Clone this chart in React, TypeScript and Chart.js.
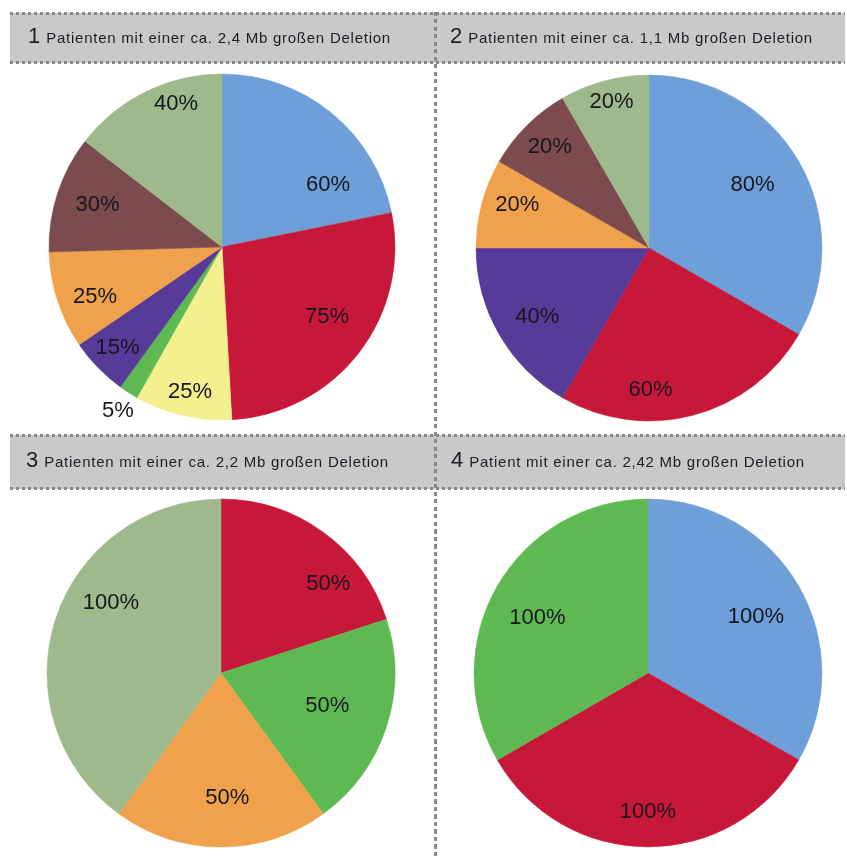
import React, { useEffect, useRef } from "react";
import { Chart, registerables } from "chart.js";

Chart.register(...registerables);

// ---- Data ----
const pie1Categories = ["A", "B", "C", "D", "E", "F", "G", "H"];
const pie1Values = [60, 75, 25, 5, 15, 25, 30, 40];

const pie2Categories = ["A", "B", "E", "F", "G", "H"];
const pie2Values = [80, 60, 40, 20, 20, 20];

const pie3Categories = ["B", "D", "F", "H"];
const pie3Values = [50, 50, 50, 100];

const pie4Categories = ["A", "B", "D"];
const pie4Values = [100, 100, 100];

const panelNumbers = ["1", "2", "3", "4"];
const panelTitles = [
  "Patienten mit einer ca. 2,4 Mb großen Deletion",
  "Patienten mit einer ca. 1,1 Mb großen Deletion",
  "Patienten mit einer ca. 2,2 Mb großen Deletion",
  "Patient mit einer ca. 2,42 Mb großen Deletion",
];

// ---- Styles ----
const CATEGORY_COLORS: Record<string, string> = {
  A: "#6f9fd8",
  B: "#c8183a",
  C: "#f4f08e",
  D: "#5fb953",
  E: "#573b98",
  F: "#efa24b",
  G: "#7b4b4e",
  H: "#9eb98b",
};

// label placement: [fraction along slice angle, fraction of radius]
const pie1LabelPos = [
  [0.76, 0.71], [0.46, 0.73], [0.48, 0.86], [0.46, 1.12],
  [0.51, 0.84], [0.39, 0.79], [0.52, 0.76], [0.66, 0.87],
];
const pie2LabelPos = [
  [0.49, 0.7], [0.66, 0.82], [0.47, 0.76], [0.6, 0.8], [0.52, 0.82], [0.52, 0.87],
];
const pie3LabelPos = [[0.7, 0.8], [0.49, 0.64], [0.46, 0.72], [0.6, 0.75]];
const pie4LabelPos = [[0.52, 0.7], [0.5, 0.8], [0.47, 0.71]];

const CANVAS = 400;

const pies = [
  { cats: pie1Categories, vals: pie1Values, pos: pie1LabelPos, cx: 222, cy: 247, r: 173 },
  { cats: pie2Categories, vals: pie2Values, pos: pie2LabelPos, cx: 649, cy: 248, r: 173 },
  { cats: pie3Categories, vals: pie3Values, pos: pie3LabelPos, cx: 221, cy: 673, r: 174 },
  { cats: pie4Categories, vals: pie4Values, pos: pie4LabelPos, cx: 648, cy: 673, r: 174 },
];

const labelPlugin = {
  id: "sliceLabels",
  afterDatasetsDraw(chart: any, _args: any, opts: any) {
    const ctx = chart.ctx;
    const meta = chart.getDatasetMeta(0);
    const values = chart.data.datasets[0].data;
    const pos = opts.positions || [];
    ctx.save();
    ctx.font = "22px 'Liberation Sans', Arial, sans-serif";
    ctx.fillStyle = "#16161e";
    ctx.textAlign = "center";
    ctx.textBaseline = "middle";
    meta.data.forEach((arc: any, i: number) => {
      const p = arc.getProps(["x", "y", "startAngle", "endAngle", "outerRadius"], true);
      const [t, f] = pos[i] || [0.5, 0.7];
      const a = p.startAngle + t * (p.endAngle - p.startAngle);
      const rr = f * p.outerRadius;
      ctx.fillText(values[i] + "%", p.x + Math.cos(a) * rr, p.y + Math.sin(a) * rr);
    });
    ctx.restore();
  },
};

function PieChart({ cats, vals, pos, cx, cy, r }: any) {
  const ref = useRef<HTMLCanvasElement>(null);
  useEffect(() => {
    if (!ref.current) return;
    const chart = new Chart(ref.current, {
      type: "pie",
      data: {
        labels: cats,
        datasets: [
          {
            data: vals,
            backgroundColor: cats.map((c: string) => CATEGORY_COLORS[c]),
            borderColor: cats.map((c: string) => CATEGORY_COLORS[c]),
            borderWidth: 0.5,
          },
        ],
      },
      options: {
        responsive: false,
        animation: false,
        events: [],
        radius: r,
        layout: { padding: 0 },
        plugins: {
          legend: { display: false },
          tooltip: { enabled: false },
          sliceLabels: { positions: pos },
        } as any,
      },
      plugins: [labelPlugin],
    });
    return () => chart.destroy();
  }, []);
  return (
    <canvas
      ref={ref}
      width={CANVAS}
      height={CANVAS}
      style={{
        position: "absolute",
        left: cx - CANVAS / 2,
        top: cy - CANVAS / 2,
        width: CANVAS,
        height: CANVAS,
      }}
    />
  );
}

const DOT = "#888888";

function HDots({ top }: { top: number }) {
  return (
    <div
      style={{
        position: "absolute",
        left: 10,
        width: 835,
        top,
        height: 3,
        backgroundImage: `repeating-linear-gradient(to right, ${DOT} 0px, ${DOT} 3px, transparent 3px, transparent 6px)`,
        zIndex: 3,
      }}
    />
  );
}

function HeaderText({ left, top, height, num, title }: any) {
  return (
    <div
      style={{
        position: "absolute",
        left,
        top,
        height,
        lineHeight: height + "px",
        whiteSpace: "nowrap",
        fontFamily: "'Liberation Sans', Arial, sans-serif",
        color: "#1c1c26",
        zIndex: 4,
      }}
    >
      <span style={{ fontSize: 22, marginRight: 6 }}>{num}</span>
      <span style={{ fontSize: 15, letterSpacing: 0.75 }}>{title}</span>
    </div>
  );
}

export default function App() {
  return (
    <div
      style={{
        position: "absolute",
        left: 0,
        top: 0,
        width: 847,
        height: 858,
        overflow: "hidden",
        background: "#ffffff",
      }}
    >
      {pies.map((p, i) => (
        <PieChart key={i} {...p} />
      ))}
      {/* header bands */}
      <div style={{ position: "absolute", left: 10, width: 835, top: 13, height: 50, background: "#c9c9c9", zIndex: 2 }} />
      <div style={{ position: "absolute", left: 10, width: 835, top: 435, height: 54, background: "#c9c9c9", zIndex: 2 }} />
      <HDots top={12} />
      <HDots top={61} />
      <HDots top={434} />
      <HDots top={487} />
      {/* vertical dotted divider */}
      <div
        style={{
          position: "absolute",
          left: 434,
          width: 3,
          top: 12,
          height: 846,
          backgroundImage: `repeating-linear-gradient(to bottom, ${DOT} 0px, ${DOT} 4px, transparent 4px, transparent 7.5px)`,
          zIndex: 3,
        }}
      />
      <HeaderText left={28} top={11} height={50} num={panelNumbers[0]} title={panelTitles[0]} />
      <HeaderText left={450} top={11} height={50} num={panelNumbers[1]} title={panelTitles[1]} />
      <HeaderText left={26} top={433} height={54} num={panelNumbers[2]} title={panelTitles[2]} />
      <HeaderText left={451} top={433} height={54} num={panelNumbers[3]} title={panelTitles[3]} />
    </div>
  );
}
